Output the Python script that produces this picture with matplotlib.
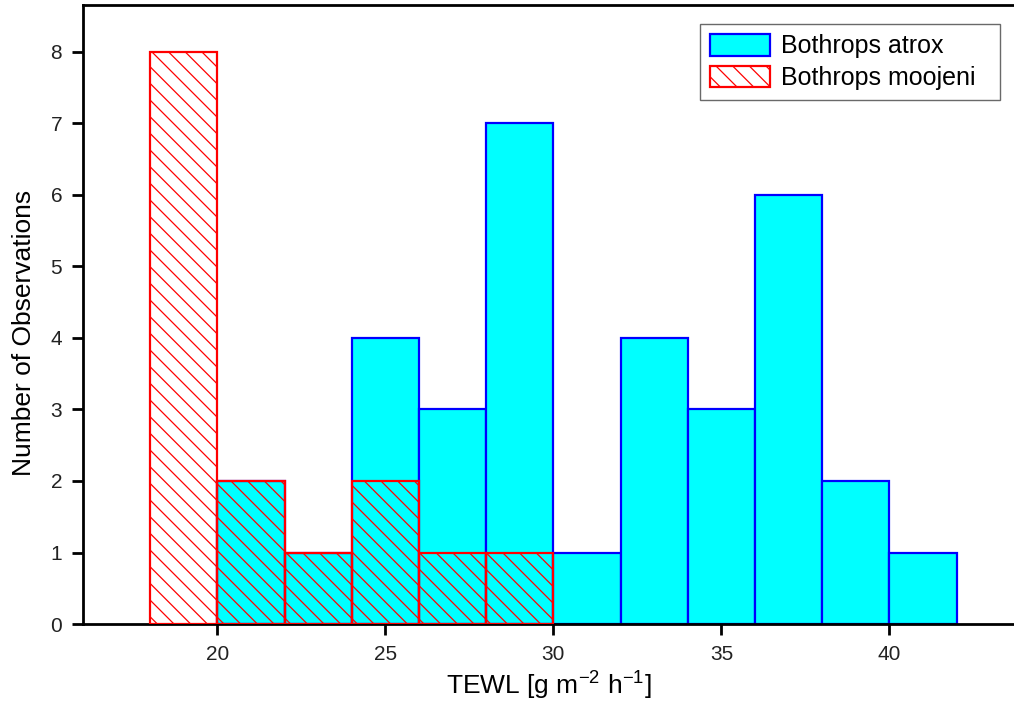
import matplotlib
matplotlib.use("Agg")
import matplotlib.pyplot as plt
from matplotlib.patches import Patch

plt.rcParams['font.family'] = ['Liberation Sans', 'DejaVu Sans']
plt.rcParams['mathtext.fontset'] = 'custom'
plt.rcParams['mathtext.rm'] = 'Liberation Sans'
plt.rcParams['hatch.linewidth'] = 0.9

bin_width = 2
atrox_left = [20, 22, 24, 26, 28, 30, 32, 34, 36, 38, 40]
atrox_counts = [2, 1, 4, 3, 7, 1, 4, 3, 6, 2, 1]
moojeni_left = [18, 20, 22, 24, 26, 28]
moojeni_counts = [8, 2, 1, 2, 1, 1]
x_ticks = [20, 25, 30, 35, 40]
y_ticks = [0, 1, 2, 3, 4, 5, 6, 7, 8]

fig = plt.figure(figsize=(10.14, 7.02), dpi=100)
ax = fig.add_axes([83/1014, 1 - 624/702, 1 - 83/1014, (624 - 5)/702])

ax.bar(atrox_left, atrox_counts, width=bin_width, align='edge',
       facecolor='#00ffff', edgecolor='#0000ff', linewidth=1.6, zorder=2)
ax.bar(moojeni_left, moojeni_counts, width=bin_width, align='edge',
       facecolor='none', edgecolor='#ff0000', hatch='\\\\', linewidth=1.6, zorder=3)

ax.set_xlim(16, 16 + (1014 - 83) / 33.6)
ax.set_ylim(0, 8 + 47 / 71.5)
ax.set_xticks(x_ticks)
ax.set_yticks(y_ticks)
ax.tick_params(direction='out', length=8, width=2, labelsize=15, pad=7,
               labelcolor='#222222')
for s in ['left', 'bottom', 'top']:
    ax.spines[s].set_linewidth(2)
ax.spines['right'].set_visible(False)

ax.set_xlabel(r'TEWL [g m$^{\mathregular{-2}}$ h$^{\mathregular{-1}}$]', fontsize=19, labelpad=3)
ax.set_ylabel('Number of Observations', fontsize=19)
ax.yaxis.set_label_coords(-0.05, 0.47)

handles = [Patch(facecolor='#00ffff', edgecolor='#0000ff', linewidth=1.6),
           Patch(facecolor='white', edgecolor='#ff0000', hatch='\\\\', linewidth=1.6)]
leg = ax.legend(handles, ['Bothrops atrox', 'Bothrops moojeni  '],
                loc='upper left', bbox_to_anchor=((700 - 83) / 931, 1 - 19 / 619),
                fontsize=18, frameon=True, fancybox=False, edgecolor='#444444',
                handlelength=2.4, handleheight=0.95, borderpad=0.4, labelspacing=0.3,
                handletextpad=0.45, borderaxespad=0)
leg.get_frame().set_linewidth(1.0)

fig.savefig('out.png', dpi=100)
